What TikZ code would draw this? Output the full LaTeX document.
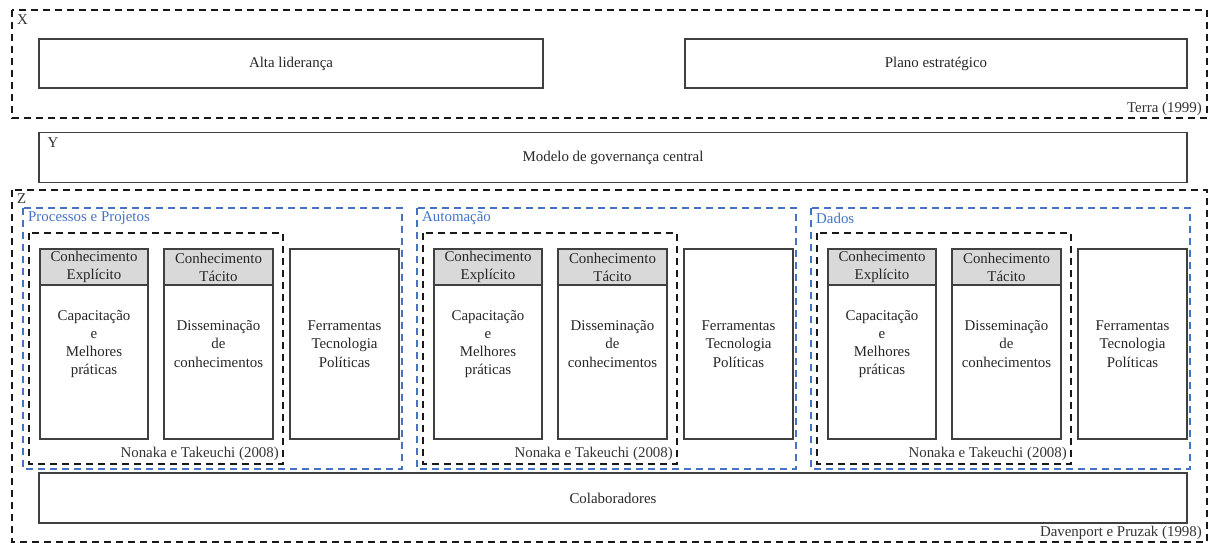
\documentclass[tikz,border=0pt]{standalone}
\usepackage{fontspec}
\setmainfont{Liberation Serif}
\definecolor{secblue}{HTML}{4472C4}
\definecolor{hdrgray}{HTML}{D9D9D9}

\begin{document}
\begin{tikzpicture}[x=1pt, y=-1pt,
  font=\fontsize{14.9}{18.2}\selectfont,
  grp/.style={draw=black!90, line width=1.8pt, dash pattern=on 7pt off 5pt},
  secgrp/.style={draw=secblue, line width=1.6pt, dash pattern=on 7pt off 5pt},
  box/.style={draw=black!75, line width=1.2pt, align=center, inner sep=0pt, text=black!85},
  hdr/.style={box, fill=hdrgray, line width=1.8pt},
  tag/.style={inner sep=2pt, text=black!80}]

  \useasboundingbox (0,0) rectangle (1213,543);

  % X: strategic level
  \draw[grp] (12,10) rectangle (1207,118);
  \node[tag, anchor=north west] (xlbl) at (15,13) {X};
  \node[box, minimum width=504pt, minimum height=49pt] (lead) at (291,63.5) {Alta liderança};
  \node[box, minimum width=502pt, minimum height=49pt] (plan) at (936,63.5) {Plano estratégico};
  \node[tag, anchor=south east] (terra) at (1204,118) {Terra (1999)};

  % Y: governance
  \node[box, minimum width=1148pt, minimum height=50pt] (gov) at (613,157.5) {Modelo de governança central};
  \node[tag, anchor=north west, xshift=7pt, yshift=-4pt] (ylbl) at (gov.north west) {Y};

  % Z: operational level
  \draw[grp] (12,190) rectangle (1207,542);
  \node[tag, anchor=north west] (zlbl) at (15,192) {Z};
  \node[box, minimum width=1148pt, minimum height=50pt] (colab) at (613,498) {Colaboradores};
  \node[tag, anchor=south east] (daven) at (1204,542) {Davenport e Pruzak (1998)};

  % three areas, same layout
  \foreach \sname/\dx [count=\i] in {Processos e Projetos/0, Automação/394, Dados/788}{
    \begin{scope}[shift={(\dx,0)}]
      \draw[secgrp] (23,208) rectangle (402,469);
      \node[tag, text=secblue, anchor=west] (sec\i) at (26,218) {\sname};
      \draw[grp] (29,233) rectangle (283,464);
      \node[tag, anchor=south east] (nt\i) at (281,463) {Nonaka e Takeuchi (2008)};
      % explicit knowledge
      \node[box, minimum width=108pt, minimum height=190pt] (exp\i) at (94,344)
        {Capacitação\\e\\Melhores\\práticas};
      \node[hdr, minimum width=108pt, minimum height=36pt, anchor=north] (exph\i) at (exp\i.north)
        {Conhecimento\\Explícito};
      % tacit knowledge
      \node[box, minimum width=109pt, minimum height=190pt] (tac\i) at (218.5,344)
        {Disseminação\\de\\conhecimentos};
      \node[hdr, minimum width=109pt, minimum height=36pt, anchor=north] (tach\i) at (tac\i.north)
        {Conhecimento\\Tácito};
      % tools
      \node[box, minimum width=109pt, minimum height=190pt] (tool\i) at (344.5,344)
        {Ferramentas\\Tecnologia\\Políticas};
    \end{scope}
  }
\end{tikzpicture}
\end{document}
